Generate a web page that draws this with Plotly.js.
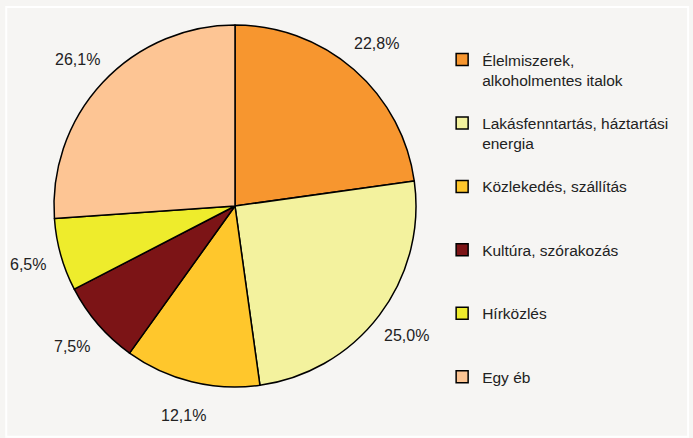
<!DOCTYPE html>
<html><head><meta charset="utf-8">
<script src="https://cdn.plot.ly/plotly-3.0.1.min.js"></script>
<style>html,body{margin:0;padding:0;background:#F6F5F3}</style>
</head><body>
<div id="chart" style="width:693px;height:438px"></div>
<script>
const categories = ["Élelmiszerek,<br>alkoholmentes italok", "Lakásfenntartás, háztartási<br>energia", "Közlekedés, szállítás", "Kultúra, szórakozás", "Hírközlés", "Egy éb"];
const shares = [22.8, 25.0, 12.1, 7.5, 6.5, 26.1];
const colors = ["#F7962F", "#F3F29E", "#FFC72C", "#7C1416", "#EEEC2C", "#FDC594"];

const W = 693, H = 438;
const dom = {x: [0.0779, 0.6003], y: [0.1164, 0.9429]};

// pad legend labels to equal line count for even spacing
const legendLabels = categories.map(c => {
  const n = c.split("<br>").length;
  return c + "<br> ".repeat(3 - n);
});

const trace = {
  type: "pie",
  labels: legendLabels,
  values: shares,
  sort: false,
  direction: "clockwise",
  rotation: 0,
  marker: {colors: colors, line: {color: "#000", width: 1.5}},
  textinfo: "none",
  automargin: false,
  hoverinfo: "none",
  domain: dom
};

// percentage labels placed outside the pie at the slice mid-angles (derived from the data)
const cx = (dom.x[0] + dom.x[1]) / 2 * W;
const cy = (1 - (dom.y[0] + dom.y[1]) / 2) * H;
const r = Math.min((dom.x[1] - dom.x[0]) * W, (dom.y[1] - dom.y[0]) * H) / 2;
const total = shares.reduce((a, b) => a + b, 0);
const annotations = [];
let cum = 0;
shares.forEach(v => {
  const mid = (cum + v / 2) / total * 2 * Math.PI;
  cum += v;
  const d = r * 1.19;
  const px = cx + Math.sin(mid) * d;
  const py = cy - Math.cos(mid) * d;
  annotations.push({
    xref: "paper", yref: "paper", x: px / W, y: 1 - py / H,
    xanchor: "center", yanchor: "middle", showarrow: false,
    text: v.toFixed(1).replace(".", ",") + "%",
    font: {family: "Liberation Sans, Arial", size: 16, color: "#222"}
  });
});

const layout = {
  width: W, height: H,
  margin: {l: 0, r: 0, t: 0, b: 0},
  paper_bgcolor: "#F6F5F3",
  separators: ", ",
  showlegend: true,
  legend: {
    x: 0.638, y: 0.902, xanchor: "left", yanchor: "top",
    valign: "top",
    font: {family: "Liberation Sans, Arial", size: 15.5, color: "#222"},
    bgcolor: "rgba(0,0,0,0)", traceorder: "normal"
  },
  annotations: annotations,
  shapes: [{type: "rect", xref: "paper", yref: "paper", x0: 0.009, x1: 0.993, y0: 0.003, y1: 0.984,
            line: {color: "#FFFFFF", width: 2}}]
};

Plotly.newPlot("chart", [trace], layout, {displayModeBar: false, staticPlot: true});
</script>
</body></html>
